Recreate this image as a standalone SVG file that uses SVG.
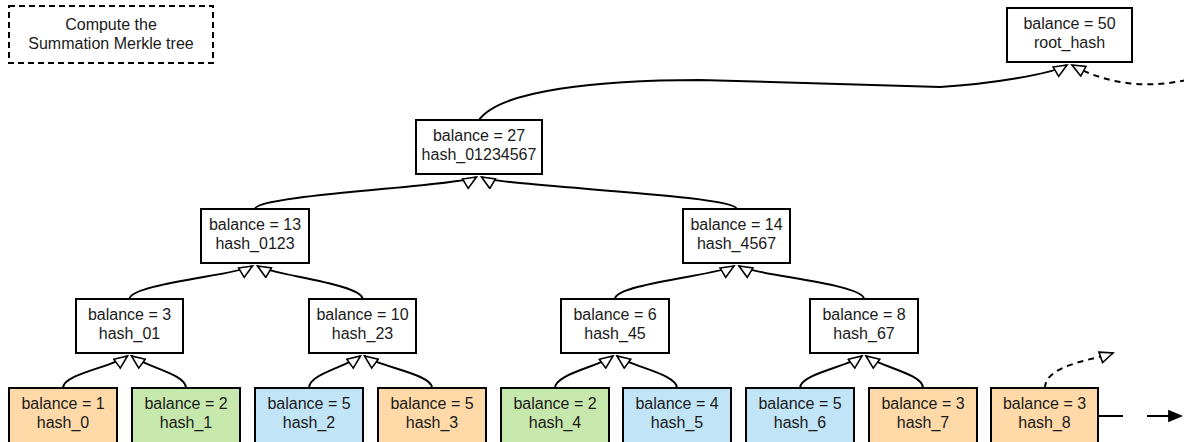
<svg xmlns="http://www.w3.org/2000/svg" width="1184" height="442" viewBox="0 0 1184 442">
<style>
.box{fill:#ffffff;stroke:#000;stroke-width:2}
.or{fill:#FFD9A8}
.gr{fill:#C7E8AC}
.bl{fill:#C1E4F7}
.t{font-family:"Liberation Sans",Arial,sans-serif;font-size:16px;fill:#1a1a1a;text-anchor:middle}
.e{fill:none;stroke:#000;stroke-width:2;marker-end:url(#open)}
.d{stroke-dasharray:6 5}
</style>
<defs>
<marker id="open" markerUnits="userSpaceOnUse" markerWidth="16" markerHeight="14" viewBox="-1 -1 16 14" refX="13" refY="5.5" orient="auto">
<path d="M0,0 L13,5.5 L0,11 Z" fill="#fff" stroke="#000" stroke-width="1.6"/>
</marker>
<marker id="solid" markerUnits="userSpaceOnUse" markerWidth="16" markerHeight="14" viewBox="0 0 14 12" refX="13" refY="6" orient="auto">
<path d="M0,0.5 L13,6 L0,11.5 Z" fill="#000"/>
</marker>
</defs>

<g id="title">
<rect x="9" y="6" width="204" height="57" fill="#fff" stroke="#000" stroke-width="2" stroke-dasharray="6 4"/>
<text class="t" x="111" y="30">Compute the</text>
<text class="t" x="111" y="49">Summation Merkle tree</text>
</g>

<g id="connectors">
<path class="e" d="M63 388 C63 374 112.5 367 127.5 356"/>
<path class="e" d="M186 388 C186 374 146.5 367 131.5 356"/>
<path class="e" d="M309 388 C309 374 345.5 367 360.5 356"/>
<path class="e" d="M432 388 C432 374 379.5 367 364.5 356"/>
<path class="e" d="M555 388 C555 374 598 367 613 356"/>
<path class="e" d="M677 388 C677 374 632 367 617 356"/>
<path class="e" d="M800 388 C800 374 847 367 862 356"/>
<path class="e" d="M923 388 C923 374 881 367 866 356"/>
<path class="e" d="M129.5 299 C129.5 284 237.5 275 252.5 266"/>
<path class="e" d="M362.5 299 C362.5 284 272.5 275 257.5 266"/>
<path class="e" d="M615 299 C615 284 719 275 734 266"/>
<path class="e" d="M864 299 C864 284 754 275 739 266"/>
<path class="e" d="M255 209 C255 195 461.5 186 476.5 177"/>
<path class="e" d="M736.5 209 C736.5 195 496.5 186 481.5 177"/>
<path class="e" d="M479 120 C500 90 600 80 700 80 L940 87 C990 84 1052 74 1067 65"/>
<path class="e d" d="M1186 80 C1150 88 1110 86 1072 65"/>
<path class="e d" d="M1045 388 C1045 365 1093 360 1113 353"/>
<path d="M1098 416 L1183 416" fill="none" stroke="#000" stroke-width="2" stroke-dasharray="25 24" marker-end="url(#solid)"/>
</g>

<g id="root">
<rect class="box" x="1007" y="8" width="125" height="54"/>
<text class="t" x="1069.5" y="29">balance = 50</text>
<text class="t" x="1069.5" y="48">root_hash</text>
</g>

<g id="n01234567">
<rect class="box" x="416" y="120" width="126" height="54"/>
<text class="t" x="479" y="141">balance = 27</text>
<text class="t" x="479" y="160">hash_01234567</text>
</g>

<g id="n0123">
<rect class="box" x="201" y="209" width="108" height="54"/>
<text class="t" x="255" y="230">balance = 13</text>
<text class="t" x="255" y="249">hash_0123</text>
</g>
<g id="n4567">
<rect class="box" x="683" y="209" width="107" height="54"/>
<text class="t" x="736.5" y="230">balance = 14</text>
<text class="t" x="736.5" y="249">hash_4567</text>
</g>

<g id="n01">
<rect class="box" x="76" y="299" width="107" height="54"/>
<text class="t" x="129.5" y="320">balance = 3</text>
<text class="t" x="129.5" y="339">hash_01</text>
</g>
<g id="n23">
<rect class="box" x="309" y="299" width="107" height="54"/>
<text class="t" x="362.5" y="320">balance = 10</text>
<text class="t" x="362.5" y="339">hash_23</text>
</g>
<g id="n45">
<rect class="box" x="561" y="299" width="108" height="54"/>
<text class="t" x="615" y="320">balance = 6</text>
<text class="t" x="615" y="339">hash_45</text>
</g>
<g id="n67">
<rect class="box" x="810" y="299" width="108" height="54"/>
<text class="t" x="864" y="320">balance = 8</text>
<text class="t" x="864" y="339">hash_67</text>
</g>

<g id="leaf0">
<rect class="box or" x="9" y="388" width="108" height="56"/>
<text class="t" x="63" y="409">balance = 1</text>
<text class="t" x="63" y="428">hash_0</text>
</g>
<g id="leaf1">
<rect class="box gr" x="132" y="388" width="108" height="56"/>
<text class="t" x="186" y="409">balance = 2</text>
<text class="t" x="186" y="428">hash_1</text>
</g>
<g id="leaf2">
<rect class="box bl" x="255" y="388" width="108" height="56"/>
<text class="t" x="309" y="409">balance = 5</text>
<text class="t" x="309" y="428">hash_2</text>
</g>
<g id="leaf3">
<rect class="box or" x="378" y="388" width="108" height="56"/>
<text class="t" x="432" y="409">balance = 5</text>
<text class="t" x="432" y="428">hash_3</text>
</g>
<g id="leaf4">
<rect class="box gr" x="501" y="388" width="108" height="56"/>
<text class="t" x="555" y="409">balance = 2</text>
<text class="t" x="555" y="428">hash_4</text>
</g>
<g id="leaf5">
<rect class="box bl" x="623" y="388" width="108" height="56"/>
<text class="t" x="677" y="409">balance = 4</text>
<text class="t" x="677" y="428">hash_5</text>
</g>
<g id="leaf6">
<rect class="box bl" x="746" y="388" width="108" height="56"/>
<text class="t" x="800" y="409">balance = 5</text>
<text class="t" x="800" y="428">hash_6</text>
</g>
<g id="leaf7">
<rect class="box or" x="869" y="388" width="108" height="56"/>
<text class="t" x="923" y="409">balance = 3</text>
<text class="t" x="923" y="428">hash_7</text>
</g>
<g id="leaf8">
<rect class="box or" x="991" y="388" width="107" height="56"/>
<text class="t" x="1044.5" y="409">balance = 3</text>
<text class="t" x="1044.5" y="428">hash_8</text>
</g>
</svg>
